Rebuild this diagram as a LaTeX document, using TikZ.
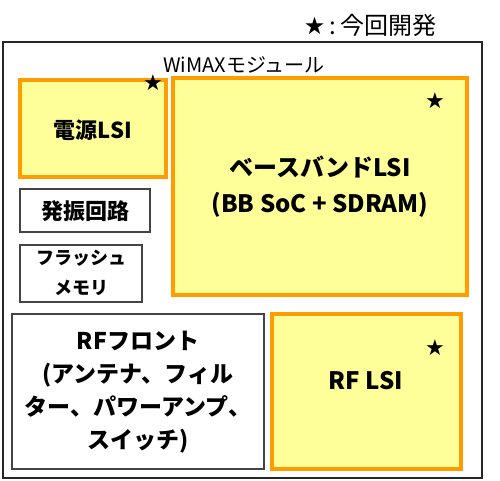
\documentclass[tikz,border=0pt]{standalone}
\usepackage{fontspec}
\setmainfont{Noto Sans CJK JP}
\newfontfamily\symfont{DejaVu Sans}
\definecolor{lsiorange}{HTML}{FF9C00}
\definecolor{lsifill}{HTML}{FFFF99}
\definecolor{boxgray}{HTML}{444444}
\begin{document}
\begin{tikzpicture}[x=1pt,y=-1pt,
  lsibox/.style={draw=lsiorange,line width=4pt,fill=lsifill},
  plainbox/.style={draw=boxgray,line width=1.2pt,fill=white},
  outerbox/.style={draw=black!85,line width=2.5pt},
  lbl/.style={align=center,font=\bfseries\fontsize{22}{30}\selectfont,inner sep=0pt},
  starmark/.style={font=\symfont\fontsize{22}{22}\selectfont,inner sep=0pt}]
\useasboundingbox (0,0) rectangle (500,481);
\node[inner sep=0pt,font=\fontsize{24}{24}\selectfont] (legend) at (370,25) {{\symfont ★}\,:\,今回開発};
\draw[outerbox] (3,42) rectangle (482,478);
\node[inner sep=0pt,font=\fontsize{20}{20}\selectfont] (title) at (244,65) {WiMAXモジュール};
% power LSI
\draw[lsibox] (20,80) rectangle (166,177);
\node[lbl] (power) at (93,130) {電源LSI};
\node[starmark] (s1) at (153,83) {★};
% baseband
\draw[lsibox] (173,78) rectangle (467,295);
\node[lbl,font=\bfseries\fontsize{24}{36}\selectfont] (bb) at (320,187) {ベースバンドLSI\\(BB SoC + SDRAM)};
\node[starmark] (s2) at (435,101) {★};
% oscillator
\draw[plainbox] (20,189) rectangle (150,232);
\node[lbl] (osc) at (85,211) {発振回路};
% flash
\draw[plainbox] (20,245) rectangle (142,302);
\node[lbl,font=\bfseries\fontsize{18}{30}\selectfont] (flash) at (81,273) {フラッシュ\\メモリ};
% RF front
\draw[plainbox] (12,314) rectangle (264,469);
\node[lbl,font=\bfseries\fontsize{23}{33}\selectfont] (rff) at (138,392) {RFフロント\\(アンテナ、フィル\\ター、パワーアンプ、\\スイッチ)};
% RF LSI
\draw[lsibox] (272,314) rectangle (461,469);
\node[lbl,font=\bfseries\fontsize{24}{24}\selectfont] (rflsi) at (366,381) {RF LSI};
\node[starmark] (s3) at (435,348) {★};
\end{tikzpicture}
\end{document}
